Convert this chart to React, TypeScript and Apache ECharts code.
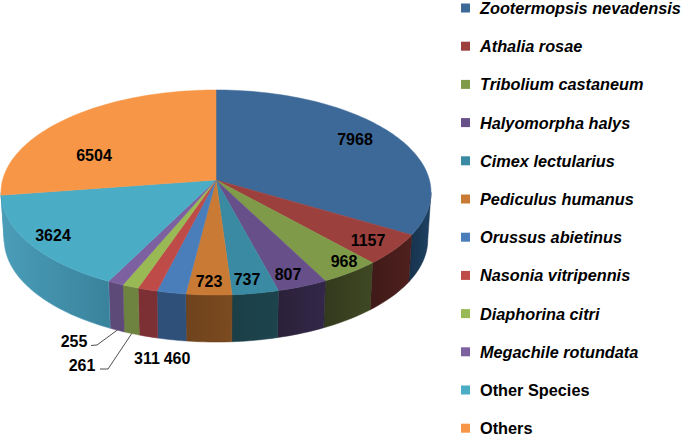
import React, { useEffect, useRef } from "react";
import * as echarts from "echarts";

const speciesNames = [
  "Zootermopsis nevadensis", "Athalia rosae", "Tribolium castaneum", "Halyomorpha halys",
  "Cimex lectularius", "Pediculus humanus", "Orussus abietinus", "Nasonia vitripennis",
  "Diaphorina citri", "Megachile rotundata", "Other Species", "Others",
];
const speciesValues = [7968, 1157, 968, 807, 737, 723, 460, 311, 261, 255, 3624, 6504];
const topColors = ["#3d6999", "#9c403e", "#7f9a48", "#67508a", "#3a8aa3", "#c97a35", "#4a7ebb", "#be4b48", "#98b954", "#7d60a0", "#4bacc6", "#f79646"];
const wallColors = [
  ["#17324c", "#1f4264"], ["#3f1a18", "#4f201e"], ["#33391d", "#3f4823"], ["#2a2138", "#33274a"],
  ["#1b3f47", "#1d444d"], ["#6f431d", "#7b4a20"], ["#2f5078", "#2f5078"], ["#7d3034", "#7d3034"],
  ["#6f8340", "#6f8340"], ["#5e4a78", "#5e4a78"], ["#4a9db8", "#3a829c"], ["#4a9db8", "#4a9db8"],
];

// layout of the labels, in page pixels
const labelCentres: [number, number][] = [
  [355, 139], [368, 240], [344, 261], [288, 274], [247, 279], [209, 281],
  [177, 358], [147, 358], [82, 365], [74, 341], [53, 235], [94, 155],
];
const leaders: Record<number, [number, number][]> = {
  8: [[108, 369], [100, 369]],
  9: [[97, 345], [91, 345.5]],
};

const CX = 216, CY = 180, RX = 213.4, RY = 101, K = 0.122, DEPTH = 47, WALL_SCALE = 0.985;
const WALL_FROM = 97, WALL_TO = 263;
const total = speciesValues.reduce((a, b) => a + b, 0);
const starts: number[] = [];
speciesValues.reduce((acc, v, i) => { starts[i] = (acc / total) * 360; return acc + v; }, 0);

function rim(deg: number): [number, number] {
  const t = (deg * Math.PI) / 180;
  const u = Math.sin(t), v = -Math.cos(t), w = 1 - K * v;
  return [CX + (RX * u) / w, CY + (RY * v) / w];
}
function lower(p: [number, number]): [number, number] {
  return [CX + (p[0] - CX) * WALL_SCALE, p[1] + DEPTH];
}
function arc(a0: number, a1: number) {
  const n = Math.max(2, Math.ceil(Math.abs(a1 - a0) / 1.5));
  const pts: [number, number][] = [];
  for (let i = 0; i <= n; i++) pts.push(rim(a0 + ((a1 - a0) * i) / n));
  return pts;
}

function sliceRenderer(i: number) {
  return () => {
    const a0 = starts[i];
    const a1 = a0 + (speciesValues[i] / total) * 360;
    const children: any[] = [];
    const w0 = Math.max(a0, WALL_FROM), w1 = Math.min(a1, WALL_TO);
    if (w1 > w0) {
      const top = arc(w0, w1);
      const bottom = top.map(lower).reverse();
      const fill = new echarts.graphic.LinearGradient(0, 0, 1, 0, [
        { offset: 0, color: wallColors[i][0] },
        { offset: 1, color: wallColors[i][1] },
      ]);
      children.push({
        type: "polygon",
        shape: { points: [...top, ...bottom] },
        style: { fill, stroke: wallColors[i][0], lineWidth: 0.5 },
      });
    }
    children.push({
      type: "polygon",
      shape: { points: [[CX, CY], ...arc(a0, a1)] },
      style: { fill: topColors[i], stroke: topColors[i], lineWidth: 0.5 },
    });
    return { type: "group", children };
  };
}

function labelRenderer() {
  const children: any[] = [];
  speciesValues.forEach((v, i) => {
    const [x, y] = labelCentres[i];
    children.push({
      type: "text",
      style: {
        text: String(v), x, y, align: "center", verticalAlign: "middle",
        font: 'bold 16px "Liberation Sans", Arial, sans-serif', fill: "#000",
      },
    });
    if (leaders[i]) {
      const mid = starts[i] + (v / total) * 180;
      children.push({
        type: "polyline",
        shape: { points: [lower(rim(mid)), ...leaders[i]] },
        style: { stroke: "#222", lineWidth: 0.8, fill: "none" },
      });
    }
  });
  return { type: "group", children };
}

export default function App() {
  const ref = useRef<HTMLDivElement>(null);
  useEffect(() => {
    document.body.style.margin = "0";
    const chart = echarts.init(ref.current!, undefined, { renderer: "svg" });
    chart.setOption({
      animation: false,
      backgroundColor: "#fff",
      tooltip: { show: false },
      legend: {
        orient: "vertical",
        left: 461,
        top: 0,
        padding: 0,
        itemWidth: 9,
        itemHeight: 9,
        itemGap: 22.2,
        icon: "rect",
        selectedMode: false,
        textStyle: {
          fontFamily: '"Liberation Sans", Arial, sans-serif',
          fontSize: 16.3,
          fontWeight: "bold",
          color: "#000",
          lineHeight: 16,
          padding: [0, 0, 0, 5],
        },
        data: speciesNames.map((name, i) => ({
          name,
          itemStyle: { color: topColors[i] },
          textStyle: { fontStyle: i < 10 ? "italic" : "normal" },
        })),
      },
      series: [
        ...speciesNames.map((name, i) => ({
          type: "custom",
          name,
          coordinateSystem: "none",
          clip: false,
          silent: true,
          itemStyle: { color: topColors[i] },
          data: [[speciesValues[i]]],
          renderItem: sliceRenderer(i),
        })),
        {
          type: "custom",
          name: "values",
          coordinateSystem: "none",
          clip: false,
          silent: true,
          z: 5,
          data: [[0]],
          renderItem: labelRenderer,
        },
      ],
    });
    return () => chart.dispose();
  }, []);
  return <div ref={ref} style={{ position: "fixed", left: 0, top: 0, width: 685, height: 441 }} />;
}
